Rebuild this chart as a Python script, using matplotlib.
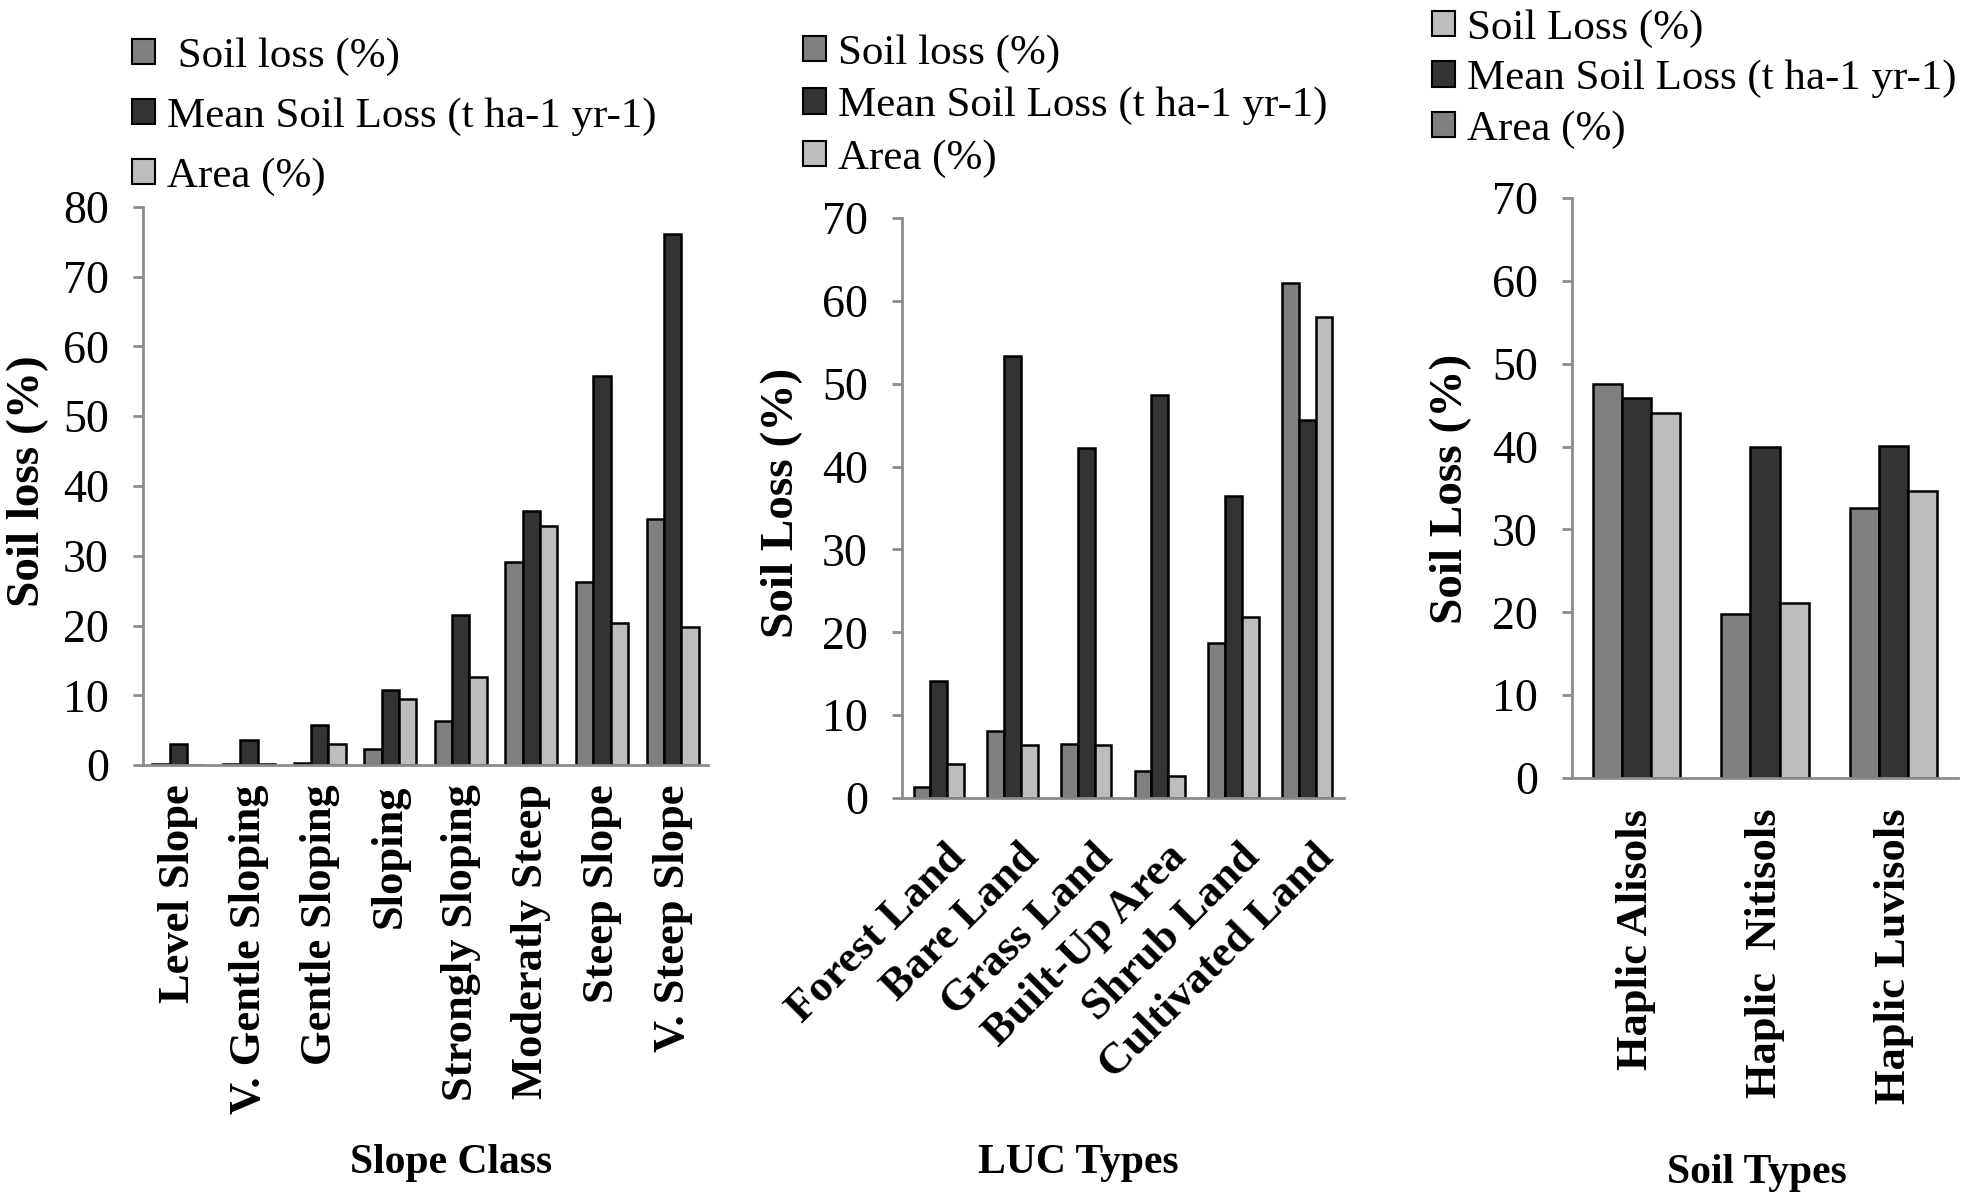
import matplotlib
matplotlib.use('Agg')
import matplotlib.pyplot as plt
from matplotlib.patches import Patch
from matplotlib.transforms import ScaledTranslation
import numpy as np

plt.rcParams['font.family'] = ['Liberation Serif', 'DejaVu Serif']

# Slope classes
slope_classes = ['Level Slope', 'V. Gentle Sloping', 'Gentle Sloping', 'Sloping',
                 'Strongly Sloping', 'Moderatly Steep', 'Steep Slope', 'V. Steep Slope']
slope_soil_loss = [0.1, 0.1, 0.3, 2.3, 6.3, 29.1, 26.3, 35.3]
slope_mean_loss = [3.0, 3.6, 5.8, 10.8, 21.5, 36.4, 55.7, 76.1]
slope_area = [0.0, 0.2, 3.0, 9.4, 12.6, 34.3, 20.3, 19.8]

# Land use / land cover types
luc_types = ['Forest Land', 'Bare Land', 'Grass Land', 'Built-Up Area',
             'Shrub Land', 'Cultivated Land']
luc_soil_loss = [1.3, 8.1, 6.5, 3.2, 18.7, 62.1]
luc_mean_loss = [14.1, 53.4, 42.3, 48.6, 36.5, 45.6]
luc_area = [4.1, 6.4, 6.4, 2.7, 21.8, 58.0]

# Soil types (legend colours as in the original: area = medium grey, soil loss = light grey)
soil_types = ['Haplic Alisols', 'Haplic  Nitisols', 'Haplic Luvisols']
soil_area = [47.5, 19.8, 32.6]
soil_mean_loss = [45.9, 39.9, 40.1]
soil_soil_loss = [44.1, 21.1, 34.6]

MID = '#808080'
DARK = '#333333'
LIGHT = '#bdbdbd'
AXIS = '#8c8c8c'

W, H = 1961, 1199
fig = plt.figure(figsize=(W / 100, H / 100), dpi=100)


def rect(left, top, right, bottom):
    return [left / W, 1 - bottom / H, (right - left) / W, (bottom - top) / H]


def draw_panel(ax, cats, series, width, ymax):
    x = np.arange(len(cats))
    for k, (vals, color, label) in enumerate(series):
        ax.bar(x + (k - 1) * width, vals, width, color=color, edgecolor='black',
               linewidth=1.8, label=label)
    ax.set_xlim(-0.5, len(cats) - 0.5)
    ax.set_ylim(0, ymax)
    ax.set_yticks(range(0, ymax + 1, 10))
    ax.set_xticks(x)
    for s in ['top', 'right']:
        ax.spines[s].set_visible(False)
    for s in ['left', 'bottom']:
        ax.spines[s].set_color(AXIS)
        ax.spines[s].set_linewidth(2)
    ax.tick_params(axis='y', direction='out', length=7.5, width=2, color=AXIS,
                   labelsize=33, pad=17)
    ax.tick_params(axis='x', length=0)


def add_legend(labels, colors, left, top, spacing):
    handles = [Patch(facecolor=c, edgecolor='black', linewidth=1.5) for c in colors]
    fig.legend(handles, labels, loc='upper left', bbox_to_anchor=(left / W, 1 - top / H),
               frameon=False, fontsize=31, handlelength=0.53, handleheight=0.53,
               handletextpad=0.28, labelspacing=spacing, borderpad=0, borderaxespad=0)


# Panel 1: slope class
ax1 = fig.add_axes(rect(143, 207, 708, 765))
draw_panel(ax1, slope_classes,
           [(slope_soil_loss, MID, ' Soil loss (%)'),
            (slope_mean_loss, DARK, 'Mean Soil Loss (t ha-1 yr-1)'),
            (slope_area, LIGHT, 'Area (%)')], 0.245, 80)
ax1.set_xticklabels(slope_classes, rotation=90, fontweight='bold', fontsize=32)
ax1.tick_params(axis='x', pad=14)
add_legend([' Soil loss (%)', 'Mean Soil Loss (t ha-1 yr-1)', 'Area (%)'],
           [MID, DARK, LIGHT], 132, 37, 0.5)
fig.text(28 / W, 1 - 481 / H, 'Soil loss (%)', rotation=90, ha='center', va='center',
         fontsize=34, fontweight='bold')
fig.text(451 / W, 1 - 1163 / H, 'Slope Class', ha='center', va='center',
         fontsize=30, fontweight='bold')

# Panel 2: LUC types
ax2 = fig.add_axes(rect(902, 218, 1344, 798))
draw_panel(ax2, luc_types,
           [(luc_soil_loss, MID, 'Soil loss (%)'),
            (luc_mean_loss, DARK, 'Mean Soil Loss (t ha-1 yr-1)'),
            (luc_area, LIGHT, 'Area (%)')], 0.227, 70)
ax2.set_xticklabels(luc_types, rotation=45, ha='right', va='top', rotation_mode='anchor',
                    fontweight='bold', fontsize=32)
ax2.tick_params(axis='x', pad=28)
shift = ScaledTranslation(6 / 100, 0, fig.dpi_scale_trans)
for lab in ax2.get_xticklabels():
    lab.set_transform(lab.get_transform() + shift)
add_legend(['Soil loss (%)', 'Mean Soil Loss (t ha-1 yr-1)', 'Area (%)'],
           [MID, DARK, LIGHT], 803, 34, 0.33)
fig.text(782 / W, 1 - 503 / H, 'Soil Loss (%)', rotation=90, ha='center', va='center',
         fontsize=34, fontweight='bold')
fig.text(1078 / W, 1 - 1163 / H, 'LUC Types', ha='center', va='center',
         fontsize=30, fontweight='bold')

# Panel 3: soil types
ax3 = fig.add_axes(rect(1572, 198, 1958, 778))
draw_panel(ax3, soil_types,
           [(soil_area, MID, 'Area (%)'),
            (soil_mean_loss, DARK, 'Mean Soil Loss (t ha-1 yr-1)'),
            (soil_soil_loss, LIGHT, 'Soil Loss (%)')], 0.227, 70)
ax3.set_xticklabels(soil_types, rotation=90, fontweight='bold', fontsize=32)
ax3.tick_params(axis='x', pad=22)
add_legend(['Soil Loss (%)', 'Mean Soil Loss (t ha-1 yr-1)', 'Area (%)'],
           [LIGHT, DARK, MID], 1432, 9, 0.28)
fig.text(1451 / W, 1 - 489 / H, 'Soil Loss (%)', rotation=90, ha='center', va='center',
         fontsize=34, fontweight='bold')
fig.text(1757 / W, 1 - 1173 / H, 'Soil Types', ha='center', va='center',
         fontsize=30, fontweight='bold')

fig.savefig('out.png', dpi=100)
